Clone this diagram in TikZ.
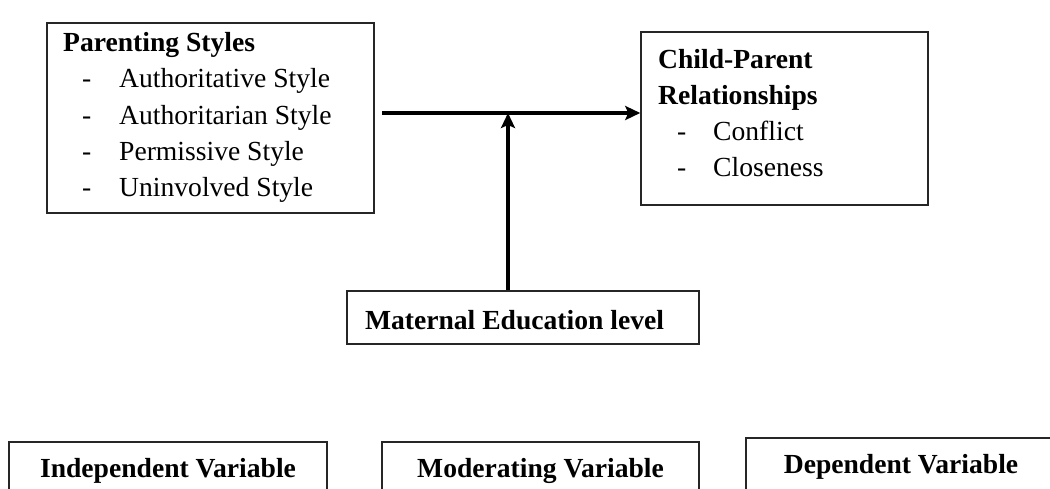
\documentclass[tikz,border=0pt]{standalone}
\usepackage{fontspec}
\setmainfont{Liberation Serif}
\usetikzlibrary{arrows.meta}
\begin{document}
\begin{tikzpicture}[x=1pt,y=-1pt,
  box/.style={draw=black!85,line width=1.5pt,rectangle,inner sep=0pt},
  txt/.style={anchor=base west,inner sep=0pt,font=\fontsize{27.6}{33}\selectfont},
  btxt/.style={txt,font=\fontsize{27.6}{33}\selectfont\bfseries},
  ctxt/.style={anchor=base,inner sep=0pt,font=\fontsize{27.6}{33}\selectfont\bfseries},
  arr/.style={line width=3.4pt,-{Stealth[length=15pt,width=14pt,inset=3pt]}}]
\useasboundingbox (0,0) rectangle (1050,488);
\clip (0,0) rectangle (1050,488);
% Parenting styles box
\node[box,minimum width=327pt,minimum height=190pt] (ps) at (210.5,118) {};
\node[btxt] (psh) at (63,51) {Parenting Styles};
\node[txt] (psd1) at (82,87) {-};
\node[txt] (ps1) at (119,87) {Authoritative Style};
\node[txt] (psd2) at (82,124) {-};
\node[txt] (ps2) at (119,124) {Authoritarian Style};
\node[txt] (psd3) at (82,160) {-};
\node[txt] (ps3) at (119,160) {Permissive Style};
\node[txt] (psd4) at (82,196) {-};
\node[txt] (ps4) at (119,196) {Uninvolved Style};
% Child-parent box
\node[box,minimum width=287pt,minimum height=173pt] (cp) at (784.5,118.5) {};
\node[btxt] (cph1) at (658,68) {Child-Parent};
\node[btxt] (cph2) at (658,104) {Relationships};
\node[txt] (cpd1) at (677,140) {-};
\node[txt] (cp1) at (713,140) {Conflict};
\node[txt] (cpd2) at (677,176) {-};
\node[txt] (cp2) at (713,176) {Closeness};
% Maternal box
\node[box,minimum width=352pt,minimum height=53pt] (me) at (523,317.5) {};
\node[ctxt] (met) at (514.5,329) {Maternal Education level};
% arrows
\coordinate (start) at (382,113);
\coordinate (mid) at (508,113);
\draw[arr] (start) -- (cp.west |- start);
\draw[arr] (me.north -| mid) -- (mid);
% bottom boxes
\node[box,minimum width=318pt,minimum height=80pt,anchor=north] (iv) at (168,441) {};
\node[ctxt] (ivt) at (168,477) {Independent Variable};
\node[box,minimum width=317pt,minimum height=80pt,anchor=north] (mv) at (540.5,441) {};
\node[ctxt] (mvt) at (540.5,477) {Moderating Variable};
\node[box,minimum width=330pt,minimum height=80pt,anchor=north west] (dv) at (745,437) {};
\node[ctxt] (dvt) at (901,473) {Dependent Variable};
\end{tikzpicture}
\end{document}
